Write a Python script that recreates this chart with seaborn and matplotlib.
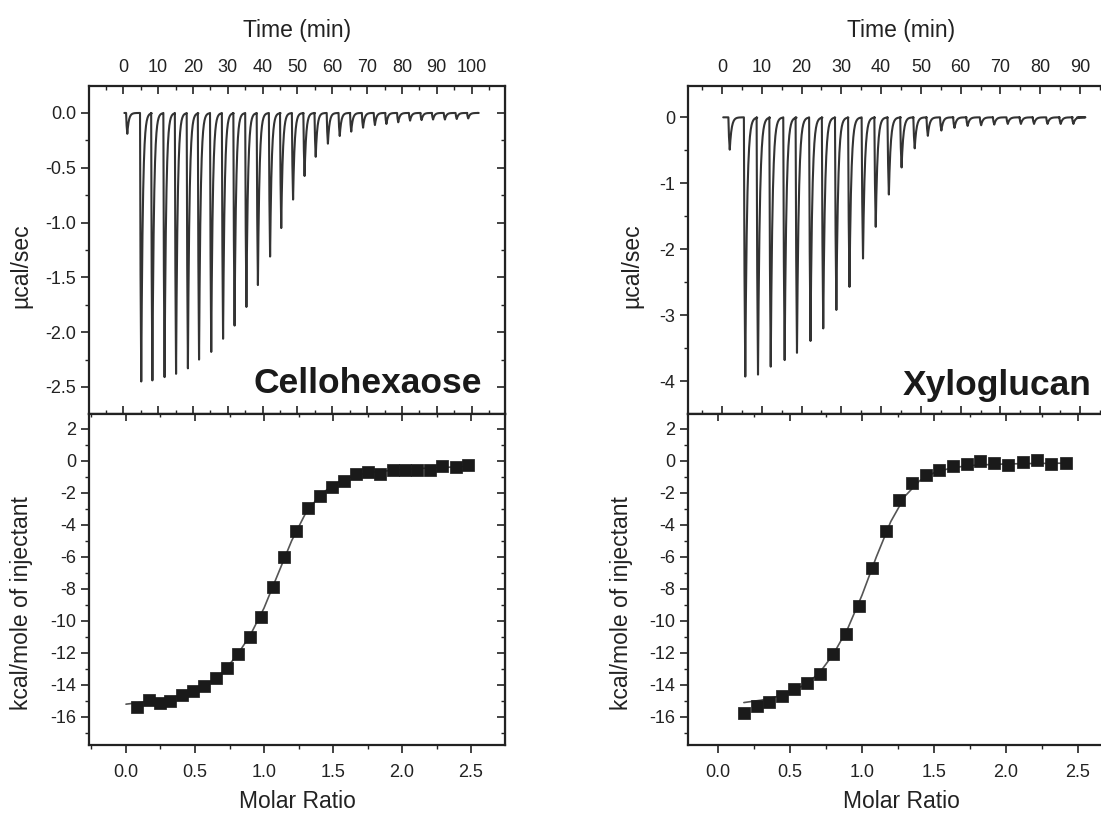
import numpy as np
import pandas as pd
import matplotlib
matplotlib.use('Agg')
import matplotlib.pyplot as plt
from matplotlib.ticker import MultipleLocator, FormatStrFormatter
import seaborn as sns

# raw ITC peaks: injection time (min) and peak depth (ucal/sec)
cello_inj_time = [0.8, 4.8, 8.0, 11.5, 14.8, 18.2, 21.4, 24.9, 28.3, 31.6, 35.0, 38.3, 41.8, 45.0,
                  48.4, 51.7, 54.9, 58.4, 61.8, 65.1, 68.5, 71.9, 75.2, 78.6, 82.0, 85.3, 88.6,
                  92.0, 95.4, 98.7]
cello_peak = [-0.19, -2.45, -2.44, -2.41, -2.38, -2.33, -2.25, -2.18, -2.06, -1.94, -1.77, -1.57,
              -1.31, -1.05, -0.79, -0.575, -0.40, -0.28, -0.21, -0.17, -0.134, -0.11, -0.10,
              -0.085, -0.07, -0.065, -0.06, -0.06, -0.055, -0.05]

xylo_inj_time = [1.6, 5.5, 8.7, 11.9, 15.4, 18.5, 21.9, 25.1, 28.4, 31.7, 35.1, 38.3, 41.6, 44.8,
                 48.1, 51.4, 54.8, 58.1, 61.4, 64.8, 68.1, 71.5, 74.8, 78.1, 81.5, 84.8, 88.0]
xylo_peak = [-0.49, -3.93, -3.90, -3.78, -3.68, -3.57, -3.39, -3.20, -2.92, -2.57, -2.14, -1.66,
             -1.17, -0.76, -0.47, -0.28, -0.20, -0.16, -0.13, -0.12, -0.11, -0.10, -0.10, -0.10,
             -0.10, -0.10, -0.10]

# integrated heats (kcal/mole of injectant) vs molar ratio
cello_ratio = [0.082, 0.167, 0.246, 0.319, 0.403, 0.488, 0.568, 0.650, 0.730, 0.814, 0.899, 0.978,
               1.063, 1.147, 1.232, 1.321, 1.406, 1.495, 1.580, 1.667, 1.756, 1.841, 1.932, 2.020,
               2.110, 2.200, 2.290, 2.390, 2.480]
cello_heat = [-15.35, -14.91, -15.14, -15.03, -14.62, -14.35, -14.08, -13.56, -12.93, -12.06,
              -11.02, -9.73, -7.86, -6.03, -4.37, -2.97, -2.18, -1.62, -1.25, -0.83, -0.69, -0.83,
              -0.58, -0.58, -0.56, -0.56, -0.31, -0.42, -0.27]
cello_fit_x = [0.0, 0.1, 0.2, 0.3, 0.4, 0.5, 0.6, 0.7, 0.8, 0.9, 1.0, 1.1, 1.2, 1.3, 1.4, 1.5,
               1.6, 1.7, 1.8, 2.0, 2.2, 2.5]
cello_fit_y = [-15.2, -15.1, -15.0, -14.85, -14.65, -14.35, -13.9, -13.2, -12.2, -10.9, -9.2,
               -7.1, -5.0, -3.3, -2.2, -1.5, -1.1, -0.85, -0.7, -0.55, -0.45, -0.35]

xylo_ratio = [0.181, 0.269, 0.354, 0.442, 0.528, 0.616, 0.708, 0.796, 0.889, 0.977, 1.072, 1.164,
              1.257, 1.350, 1.442, 1.537, 1.634, 1.727, 1.819, 1.917, 2.016, 2.116, 2.213, 2.313,
              2.414]
xylo_heat = [-15.73, -15.31, -15.06, -14.69, -14.27, -13.85, -13.31, -12.06, -10.83, -9.10,
             -6.67, -4.38, -2.44, -1.40, -0.88, -0.56, -0.31, -0.21, -0.04, -0.15, -0.25, -0.08,
             0.02, -0.19, -0.15]
xylo_fit_x = [0.18, 0.3, 0.4, 0.5, 0.6, 0.7, 0.8, 0.9, 1.0, 1.1, 1.2, 1.3, 1.4, 1.5, 1.6, 1.7,
              1.8, 2.0, 2.2, 2.42]
xylo_fit_y = [-15.1, -14.95, -14.75, -14.45, -14.0, -13.3, -12.1, -10.5, -8.4, -6.0, -3.8, -2.2,
              -1.25, -0.75, -0.5, -0.35, -0.27, -0.2, -0.17, -0.15]


def thermogram(times, peaks, t_start, t_end):
    # sharp drop at each injection, then return to baseline
    t, v = [t_start], [0.0]
    k = np.linspace(0.05, 3.0, 30)
    for t0, h in zip(times, peaks):
        t += [t0, t0 + 0.15, t0 + 0.35]
        v += [0.0, 0.6 * h, h]
        t += list(t0 + 0.35 + k)
        v += list(h * np.exp(-k / 0.45))
    t.append(t_end)
    v.append(0.0)
    return pd.DataFrame({'time': t, 'power': v})


sns.set_style('ticks')
plt.rcParams['font.family'] = ['Liberation Sans', 'DejaVu Sans']
plt.rcParams['axes.unicode_minus'] = False

fig = plt.figure(figsize=(11.01, 8.14), dpi=100)
ink = '#222222'
lab_size = 16.5
tick_size = 13

panels = [
    dict(x0=89, w=416, name='Cellohexaose', inj=cello_inj_time, peak=cello_peak,
         trace=(0.3, 101.6), tlim=(-9.85, 109.6), tmax=100, ylim_top=(-2.742, 0.246),
         ytick_top=0.5, yminor_top=0.25, fmt='%.1f', ratio=cello_ratio, heat=cello_heat,
         fx=cello_fit_x, fy=cello_fit_y, mlim=(-0.268, 2.746), name_x=0.945, name_y=0.063,
         ylab1=-0.135, ylab2=-0.135),
    dict(x0=688, w=427, name='Xyloglucan', inj=xylo_inj_time, peak=xylo_peak,
         trace=(0.3, 89.3), tlim=(-8.55, 98.8), tmax=90, ylim_top=(-4.49, 0.475),
         ytick_top=1.0, yminor_top=0.5, fmt='%d', ratio=xylo_ratio, heat=xylo_heat,
         fx=xylo_fit_x, fy=xylo_fit_y, mlim=(-0.208, 2.757), name_x=0.946, name_y=0.055,
         ylab1=-0.105, ylab2=-0.129),
]

W, H = 1101, 814
for p in panels:
    # --- raw heat flow ---
    ax = fig.add_axes([p['x0'] / W, (H - 413.5) / H, p['w'] / W, 327.5 / H])
    df = thermogram(p['inj'], p['peak'], *p['trace'])
    sns.lineplot(data=df, x='time', y='power', sort=False, estimator=None, ax=ax,
                 color='#333333', linewidth=1.5)
    ax.set_xlim(*p['tlim'])
    ax.set_ylim(*p['ylim_top'])
    ax.xaxis.set_label_position('top')
    ax.set_xticks(np.arange(0, p['tmax'] + 1, 10))
    ax.xaxis.set_minor_locator(MultipleLocator(5))
    ax.yaxis.set_major_locator(MultipleLocator(p['ytick_top']))
    ax.yaxis.set_minor_locator(MultipleLocator(p['yminor_top']))
    ax.yaxis.set_major_formatter(FormatStrFormatter(p['fmt']))
    ax.tick_params(axis='x', which='both', direction='in', top=True, bottom=True,
                   labeltop=True, labelbottom=False, labelsize=tick_size, pad=7, colors=ink)
    ax.tick_params(axis='x', which='major', length=6, width=1.2)
    ax.tick_params(axis='x', which='minor', length=3, width=1.0)
    ax.tick_params(axis='y', which='both', direction='out', left=True, right=False,
                   labelsize=tick_size, pad=3, colors=ink)
    ax.tick_params(axis='y', which='major', length=6, width=1.2)
    ax.tick_params(axis='y', which='minor', length=3, width=1.0)
    sec = ax.secondary_yaxis('right')
    sec.yaxis.set_major_locator(MultipleLocator(p['ytick_top']))
    sec.yaxis.set_minor_locator(MultipleLocator(p['yminor_top']))
    sec.tick_params(which='both', direction='in', labelright=False, colors=ink)
    sec.tick_params(which='major', length=6, width=1.2)
    sec.tick_params(which='minor', length=3, width=1.0)
    ax.set_xlabel('Time (min)', fontsize=lab_size, color=ink)
    ax.set_ylabel('µcal/sec', fontsize=lab_size, color=ink)
    ax.xaxis.set_label_coords(0.5, 1.15)
    ax.yaxis.set_label_coords(p['ylab1'], 0.45)
    ax.text(p['name_x'], p['name_y'], p['name'], transform=ax.transAxes, ha='right',
            va='baseline', fontsize=25.5, fontweight='bold', color='#1a1a1a')

    # --- integrated heats ---
    bx = fig.add_axes([p['x0'] / W, (H - 745) / H, p['w'] / W, 331.5 / H])
    fit = pd.DataFrame({'ratio': p['fx'], 'heat': p['fy']})
    pts = pd.DataFrame({'ratio': p['ratio'], 'heat': p['heat']})
    sns.lineplot(data=fit, x='ratio', y='heat', ax=bx, color='#555555', linewidth=1.2)
    sns.scatterplot(data=pts, x='ratio', y='heat', ax=bx, marker='s', s=80,
                    color='#1a1a1a', edgecolor='#1a1a1a', linewidth=0.5, zorder=3)
    bx.set_xlim(*p['mlim'])
    bx.set_ylim(-17.75, 2.95)
    bx.xaxis.set_major_locator(MultipleLocator(0.5))
    bx.xaxis.set_minor_locator(MultipleLocator(0.25))
    bx.yaxis.set_major_locator(MultipleLocator(2))
    bx.yaxis.set_minor_locator(MultipleLocator(1))
    bx.xaxis.set_major_formatter(FormatStrFormatter('%.1f'))
    bx.tick_params(axis='both', which='both', direction='out', labelsize=tick_size, colors=ink)
    bx.tick_params(axis='x', pad=8)
    bx.tick_params(axis='y', pad=3)
    bx.tick_params(axis='both', which='major', length=6, width=1.2)
    bx.tick_params(axis='both', which='minor', length=3, width=1.0)
    for loc in ['top', 'right']:
        s = bx.secondary_xaxis('top') if loc == 'top' else bx.secondary_yaxis('right')
        axis = s.xaxis if loc == 'top' else s.yaxis
        axis.set_major_locator(MultipleLocator(0.5 if loc == 'top' else 2))
        axis.set_minor_locator(MultipleLocator(0.25 if loc == 'top' else 1))
        s.tick_params(which='both', direction='in', labeltop=False, labelright=False, colors=ink)
        s.tick_params(which='major', length=6, width=1.2)
        s.tick_params(which='minor', length=3, width=1.0)
    bx.set_xlabel('Molar Ratio', fontsize=lab_size, color=ink)
    bx.xaxis.label.set_va('baseline')
    bx.set_ylabel('kcal/mole of injectant', fontsize=lab_size, color=ink)
    bx.xaxis.set_label_coords(0.5, -0.19)
    bx.yaxis.set_label_coords(p['ylab2'], 0.428)

    for a in (ax, bx):
        for sp in a.spines.values():
            sp.set_linewidth(1.6)
            sp.set_color(ink)

fig.savefig('out.png', dpi=100, facecolor='white')
